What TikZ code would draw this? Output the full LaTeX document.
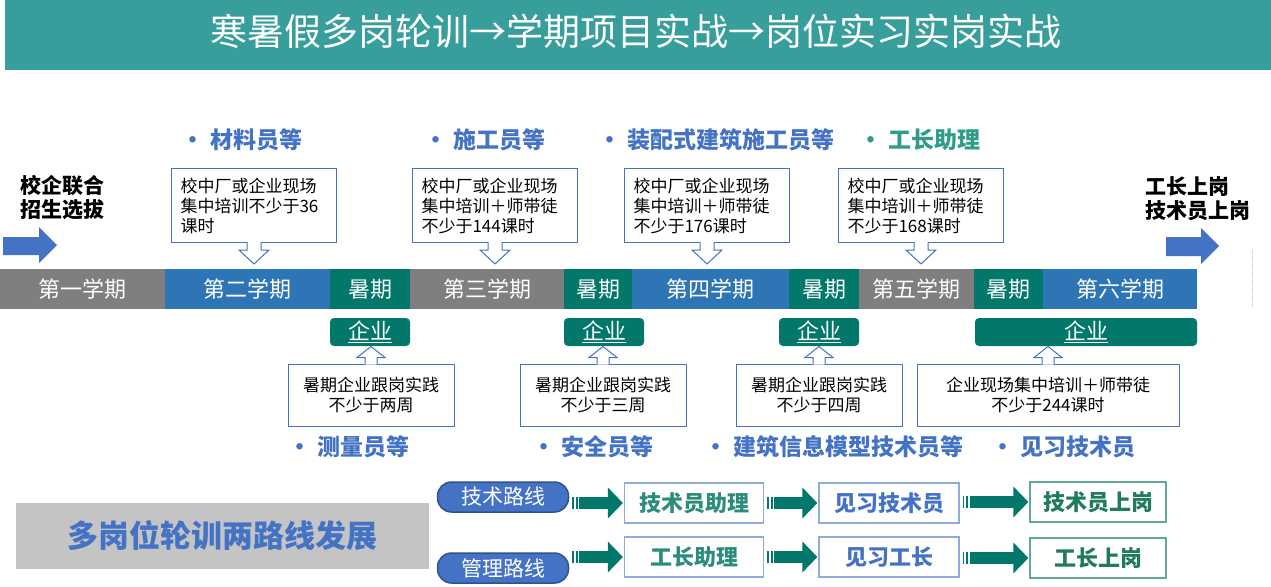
\documentclass[tikz,border=0pt]{standalone}
\usepackage{fontspec}
\setmainfont{Noto Sans CJK SC}
\usetikzlibrary{calc,arrows.meta}

\definecolor{ctitle}{HTML}{389E9B}
\definecolor{cblue}{HTML}{4472C4}
\definecolor{cdblue}{HTML}{2F528F}
\definecolor{csem}{HTML}{2E75B6}
\definecolor{cgray}{HTML}{7F7F7F}
\definecolor{cteal}{HTML}{02786A}
\definecolor{clteal}{HTML}{2E9B8B}
\definecolor{cgreen}{HTML}{2C8C7C}
\definecolor{cdgreen}{HTML}{1F7A5E}
\definecolor{clblue}{HTML}{8FAADC}
\definecolor{cbteal}{HTML}{5FA89A}
\definecolor{cbg}{HTML}{C4C4C4}

\begin{document}
\begin{tikzpicture}[x=1pt,y=-1pt,
  sem/.style={minimum height=40pt, inner sep=0pt, outer sep=0pt, text=white, font=\fontsize{22pt}{24pt}\selectfont},
  semg/.style={sem, fill=cgray},
  semb/.style={sem, fill=csem},
  sumt/.style={sem, fill=cteal},
  callbox/.style={draw=cblue, line width=1pt, fill=white, anchor=north west, text width=147pt, inner sep=9pt, minimum height=74pt, align=left, font=\fontsize{17pt}{20pt}\selectfont},
  lowbox/.style={draw=cblue, line width=1pt, fill=white, minimum width=166pt, minimum height=62pt, align=center, font=\fontsize{17pt}{20pt}\selectfont},
  hollow/.style={draw=cblue, line width=1pt, fill=white, line join=miter},
  qiye/.style={fill=cteal, rounded corners=4pt, minimum height=28pt, inner sep=0pt, text=white, font=\fontsize{22pt}{24pt}\selectfont},
  job/.style={anchor=west, inner sep=0pt, text=cblue, font=\bfseries\fontsize{23pt}{25pt}\selectfont},
  bigbold/.style={anchor=north west, align=left, inner sep=0pt, font=\bfseries\fontsize{21pt}{24pt}\selectfont},
  pill/.style={fill=cblue, draw=cdblue, line width=1.5pt, rounded corners=14pt, minimum width=131pt, minimum height=30pt, inner sep=0pt, text=white, font=\fontsize{21pt}{23pt}\selectfont},
  goal/.style={draw=clblue, line width=1.2pt, minimum width=139pt, minimum height=40pt, inner sep=0pt, font=\bfseries\fontsize{22pt}{24pt}\selectfont},
  stripe/.style={draw=cteal, line width=12pt},
  fat/.style={draw=cteal, line width=12pt, -{Triangle[length=15pt,width=30pt]}}
]
\useasboundingbox (0,0) rectangle (1271,586);

% title
\fill[ctitle] (5,0) rectangle (1271,70);
\node[text=white, font=\fontsize{37pt}{40pt}\selectfont] (title) at (636,31) {寒暑假多岗轮训→学期项目实战→岗位实习实岗实战};

% start and end
\node[bigbold] (start) at (20,175) {校企联合\\招生选拔};
\node[bigbold] (finish) at (1145,176) {工长上岗\\技术员上岗};
\fill[cblue] (3,237) -- (39,237) -- (39,227) -- (57,245) -- (39,263) -- (39,255) -- (3,255) -- cycle;
\fill[cblue] (1166,237) -- (1201,237) -- (1201,228) -- (1219,246) -- (1201,264) -- (1201,256) -- (1166,256) -- cycle;
\draw[gray!50, densely dotted, line width=1pt] (1252,250) -- (1252,308);

% semesters
\node[semg, minimum width=165pt] (s1) at (82.5,289) {第一学期};
\node[semb, minimum width=165pt] (s2) at (247.5,289) {第二学期};
\node[sumt, minimum width=80pt] (x1) at (370,289) {暑期};
\node[semg, minimum width=154pt] (s3) at (487,289) {第三学期};
\node[sumt, minimum width=68pt] (x2) at (598,289) {暑期};
\node[semb, minimum width=157pt] (s4) at (710.5,289) {第四学期};
\node[sumt, minimum width=70pt] (x3) at (824,289) {暑期};
\node[semg, minimum width=115pt] (s5) at (916.5,289) {第五学期};
\node[sumt, minimum width=69pt] (x4) at (1008.5,289) {暑期};
\node[semb, minimum width=154pt] (s6) at (1120,289) {第六学期};

% school training
\node[callbox] (c1) at (171,168) {校中厂或企业现场\\集中培训不少于36\\课时};
\node[callbox] (c2) at (412,168) {校中厂或企业现场\\集中培训＋师带徒\\不少于144课时};
\node[callbox] (c3) at (624,168) {校中厂或企业现场\\集中培训＋师带徒\\不少于176课时};
\node[callbox] (c4) at (838,168) {校中厂或企业现场\\集中培训＋师带徒\\不少于168课时};
\foreach \c in {c1,c2,c3,c4}
  \draw[hollow] ([xshift=-7pt,yshift=1pt]\c.south) -- ++(0,8) -- ++(-8,0) -- ++(15,14) -- ++(15,-14) -- ++(-8,0) -- ++(0,-8);

\node[job] (r1) at (210,140) {\llap{·\hspace{6pt}}材料员等};
\node[job] (r2) at (453,140) {\llap{·\hspace{6pt}}施工员等};
\node[job] (r3) at (627,140) {\llap{·\hspace{6pt}}装配式建筑施工员等};
\node[job, text=clteal] (r4) at (888,140) {\llap{·\hspace{6pt}}工长助理};

% enterprise practice
\node[qiye, minimum width=80pt] (e1) at (370,332) {\underline{企业}};
\node[qiye, minimum width=80pt] (e2) at (604,332) {\underline{企业}};
\node[qiye, minimum width=80pt] (e3) at (819,332) {\underline{企业}};
\node[qiye, minimum width=222pt] (e4) at (1086,332) {\underline{企业}};

\node[lowbox] (l1) at (371,395) {暑期企业跟岗实践\\不少于两周};
\node[lowbox] (l2) at (603,395) {暑期企业跟岗实践\\不少于三周};
\node[lowbox] (l3) at (819,395) {暑期企业跟岗实践\\不少于四周};
\node[lowbox, minimum width=262pt] (l4) at (1048,395) {企业现场集中培训＋师带徒\\不少于244课时};
\foreach \l in {l1,l2,l3,l4}
  \draw[hollow] ([xshift=-6pt,yshift=-1pt]\l.north) -- ++(0,-7) -- ++(-8,0) -- ++(14,-11) -- ++(14,11) -- ++(-8,0) -- ++(0,7);

\node[job] (q1) at (317,447) {\llap{·\hspace{6pt}}测量员等};
\node[job] (q2) at (561,447) {\llap{·\hspace{6pt}}安全员等};
\node[job] (q3) at (733,447) {\llap{·\hspace{6pt}}建筑信息模型技术员等};
\node[job] (q4) at (1020,447) {\llap{·\hspace{6pt}}见习技术员};

% two routes
\node[fill=cbg, minimum width=413pt, minimum height=66pt, text=cblue, font=\bfseries\fontsize{31pt}{33pt}\selectfont] (route) at (222.5,536) {多岗位轮训两路线发展};
\node[pill] (p1) at (503,497) {技术路线};
\node[pill] (p2) at (503,568) {管理路线};

\node[goal, text=cgreen] (t1) at (694,503) {技术员助理};
\node[goal, text=cblue, minimum width=140pt] (t2) at (889,503) {见习技术员};
\node[goal, draw=cbteal, text=cdgreen, minimum width=136pt] (t3) at (1098,502) {技术员上岗};
\node[goal, text=cgreen] (m1) at (694,557) {工长助理};
\node[goal, text=cblue, minimum width=140pt] (m2) at (889,557) {见习工长};
\node[goal, draw=cbteal, text=cdgreen, minimum width=136pt] (m3) at (1098,558) {工长上岗};

\foreach \a/\b in {p1/t1,t1/t2,t2/t3,p2/m1,m1/m2,m2/m3}{
  \coordinate (tl) at ($(\a.east |- \b.west)+(3,0)$);
  \draw[stripe] (tl) -- ++(1.5,0);
  \draw[stripe] ($(tl)+(3.5,0)$) -- ++(2,0);
  \draw[fat] ($(tl)+(7,0)$) -- ($(\b.west)+(-1,0)$);
}
\end{tikzpicture}
\end{document}
